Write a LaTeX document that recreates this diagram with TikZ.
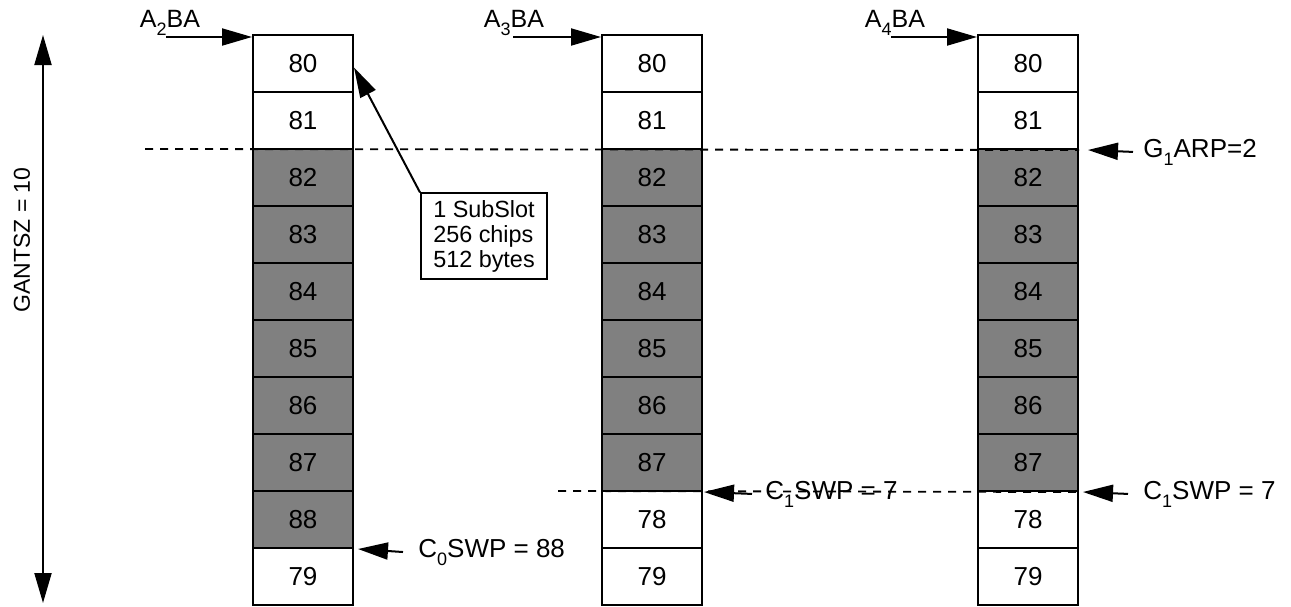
\documentclass[tikz,border=0pt]{standalone}
\usepackage{fontspec}
\setmainfont{Liberation Sans}
\usetikzlibrary{arrows.meta}
\newcommand\subidx[1]{\raisebox{-4pt}{\fontsize{9}{10}\selectfont #1}}

\begin{document}
\begin{tikzpicture}[
    x=0.5pt, y=-0.5pt,
    cell/.style={draw, line width=1pt, minimum width=50pt, minimum height=28.5pt, inner sep=0pt, font=\fontsize{13}{15}\selectfont},
    used/.style={cell, fill=black!50},
    free/.style={cell, fill=white},
    lbl/.style={font=\fontsize{13}{15}\selectfont, inner sep=0pt},
    ptr/.style={-{Triangle[length=15pt, width=8.5pt]}, line width=1pt},
    gap/.style={dash pattern=on 4pt off 3.5pt, line width=0.9pt},
    >={Triangle[length=15pt, width=8.5pt]}
]
\useasboundingbox (0,0) rectangle (1291,606);

% First buffer
\foreach \n/\s [count=\i from 0] in {80/free, 81/free, 82/used, 83/used, 84/used, 85/used, 86/used, 87/used, 88/used, 79/free}
    \node[\s] (a\i) at (303, {63.5+57*\i}) {\n};

% Second and third buffer
\foreach \c/\x in {b/652, c/1028}
    \foreach \n/\s [count=\i from 0] in {80/free, 81/free, 82/used, 83/used, 84/used, 85/used, 86/used, 87/used, 78/free, 79/free}
        \node[\s] (\c\i) at (\x, {63.5+57*\i}) {\n};

% Base addresses
\coordinate (ta) at (166,37);
\coordinate (tb) at (513,37);
\coordinate (tc) at (891,37);
\node[lbl, font=\fontsize{12.5}{15}\selectfont, anchor=base] (baa) at (170,27) {A\subidx{2}BA};
\node[lbl, font=\fontsize{12.5}{15}\selectfont, anchor=base] (bab) at (514,27) {A\subidx{3}BA};
\node[lbl, font=\fontsize{12.5}{15}\selectfont, anchor=base] (bac) at (895,27) {A\subidx{4}BA};
\draw[ptr] (ta) -- (ta -| a0.west);
\draw[ptr] (tb) -- (tb -| b0.west);
\draw[ptr] (tc) -- (tc -| c0.west);

% Size
\coordinate (gtop) at (43,35);
\coordinate (gbot) at (43,603);
\draw[<->, line width=1pt] (gtop) -- (gbot);
\node[lbl, font=\fontsize{11.5}{14}\selectfont, rotate=90] (gsz) at (22,240) {GANTSZ = 10};

% Sub slot note
\node[draw, line width=1pt, align=left, font=\fontsize{11.7}{12.5}\selectfont, minimum width=63pt, minimum height=41pt] (note) at (484,236) {1 SubSlot\\256 chips\\512 bytes};
\draw[ptr] (note.north west) -- ([yshift=-2pt]a0.east);

% Pointers
\node[lbl, anchor=base west] (garp) at (1143,157) {G\subidx{1}ARP=2};
\node[lbl, anchor=base west] (swa) at (418,557) {C\subidx{0}SWP = 88};
\node[lbl, anchor=base west] (swb) at (765,499) {C\subidx{1}SWP = 7};
\node[lbl, anchor=base west] (swc) at (1143,499) {C\subidx{1}SWP = 7};
\draw[ptr] ([xshift=-5pt]garp.west) -- ([xshift=4.5pt]c1.south east);
\draw[ptr] ([xshift=-7.5pt]swa.west) -- ([xshift=2pt]a8.south east);
\draw[ptr] ([xshift=-6.5pt]swb.west) -- ([xshift=0.5pt]b7.south east);
\draw[ptr] ([xshift=-7.5pt]swc.west) -- ([xshift=2pt]c7.south east);

% Region borders
\coordinate (da) at (145,149);
\coordinate (db) at (558,491);
\draw[gap] (da) -- (c1.south east);
\draw[gap] (db) -- (c7.south east);

\end{tikzpicture}
\end{document}
